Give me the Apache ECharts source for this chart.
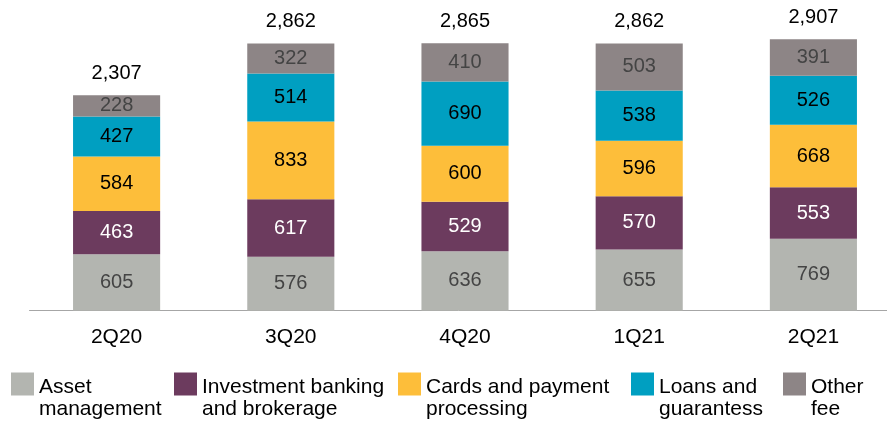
<!DOCTYPE html>
<html>
<head>
<meta charset="utf-8">
<script src="https://cdn.jsdelivr.net/npm/echarts@6/dist/echarts.min.js"></script>
<style>
  html, body { margin: 0; padding: 0; background: #fff; }
  #chart { width: 887px; height: 423px; }
</style>
</head>
<body>
<div id="chart"></div>
<script>
// quarters on the x axis
var quarters = ['2Q20', '3Q20', '4Q20', '1Q21', '2Q21'];
// fee segments, bottom to top
var assetMgmt = [605, 576, 636, 655, 769];
var invBanking = [463, 617, 529, 570, 553];
var cardsPayment = [584, 833, 600, 596, 668];
var loansGuar = [427, 514, 690, 538, 526];
var otherFee = [228, 322, 410, 503, 391];
// totals shown above the bars
var totals = [2307, 2862, 2865, 2862, 2907];

var seriesNames = ['Asset\nmanagement', 'Investment banking\nand brokerage', 'Cards and payment\nprocessing', 'Loans and\nguarantess', 'Other\nfee'];
var seriesData = [assetMgmt, invBanking, cardsPayment, loansGuar, otherFee];
var colors = ['#B3B5B0', '#6C3B5E', '#FDBE3A', '#009FC1', '#8D8586'];
var labelColors = ['#444', '#fff', '#000', '#000', '#444'];
var legendLeft = [11, 174, 398, 631, 783];

var font = 'Liberation Sans, Arial, sans-serif';

var series = seriesData.map(function (d, i) {
  return {
    name: seriesNames[i],
    type: 'bar',
    stack: 'fee',
    barWidth: '50%',
    data: d,
    itemStyle: { color: colors[i] },
    label: {
      show: true,
      position: 'inside',
      color: labelColors[i],
      fontSize: 20,
      fontFamily: font
    }
  };
});
// zero-height bar on top of the stack to carry the total
series.push({
  name: 'total',
  type: 'bar',
  stack: 'fee',
  barWidth: '50%',
  data: totals.map(function () { return 0; }),
  itemStyle: { color: 'transparent' },
  label: {
    show: true,
    position: 'top',
    distance: 12,
    color: '#000',
    fontSize: 20,
    fontFamily: font,
    formatter: function (p) {
      return totals[p.dataIndex].toLocaleString('en-US');
    }
  }
});

// legend text hangs from the first line, so push it down with a spacer line
var legends = seriesNames.map(function (n, i) {
  return {
    data: [n],
    left: legendLeft[i],
    top: 360,
    icon: 'rect',
    itemWidth: 23,
    itemHeight: 23,
    itemGap: 0,
    padding: 0,
    formatter: function (name) {
      return '{s| }\n' + name.split('\n').map(function (t) { return '{t|' + t + '}'; }).join('\n');
    },
    textStyle: {
      fontSize: 21,
      fontFamily: font,
      color: '#000',
      rich: {
        s: { fontSize: 4, lineHeight: 29 },
        t: { fontSize: 21, fontFamily: font, color: '#000', lineHeight: 22 }
      }
    }
  };
});

var chart = echarts.init(document.getElementById('chart'));
chart.setOption({
  animation: false,
  color: colors,
  legend: legends,
  grid: { left: 29.5, right: -13.5, top: 30.6, bottom: 112.4, outerBoundsMode: 'none' },
  xAxis: {
    type: 'category',
    data: quarters,
    axisLine: { lineStyle: { color: '#A6A6A6', width: 1 } },
    axisTick: { show: false },
    axisLabel: { fontSize: 21, fontFamily: font, color: '#000', margin: 16 }
  },
  yAxis: {
    type: 'value',
    min: 0,
    max: 3000,
    show: false,
    splitLine: { show: false }
  },
  series: series
});
</script>
</body>
</html>
